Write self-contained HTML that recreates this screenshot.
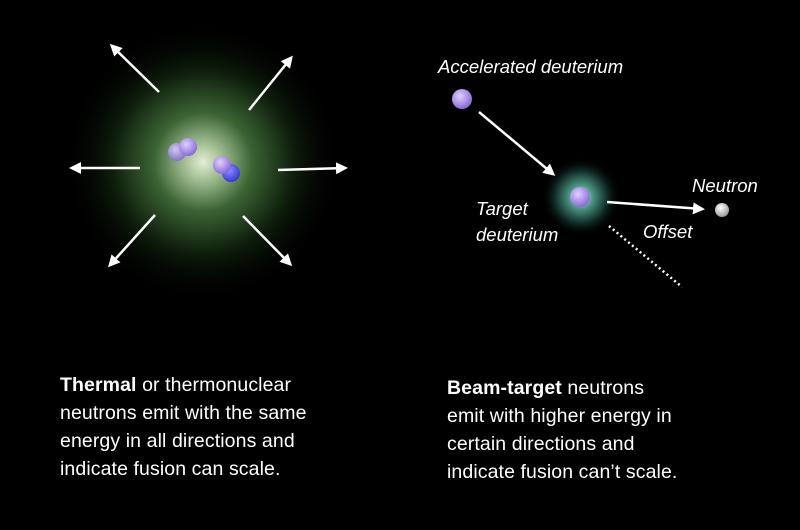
<!DOCTYPE html>
<html><head><meta charset="utf-8"><style>
body{margin:0;background:#000;width:800px;height:530px;overflow:hidden;font-family:"Liberation Sans",sans-serif;}
.t{position:absolute;color:#fff;font-size:19.5px;line-height:28px;letter-spacing:0.1px;}
</style></head><body>
<svg width="800" height="530" style="position:absolute;left:0;top:0">
<defs>
<radialGradient id="g1" cx="50%" cy="50%" r="50%">
<stop offset="0" stop-color="#e4ecd8"/>
<stop offset="0.12" stop-color="#a8c498"/>
<stop offset="0.35" stop-color="#3c6434"/>
<stop offset="0.65" stop-color="#0e1e0c"/>
<stop offset="1" stop-color="#000" stop-opacity="0"/>
</radialGradient>
<radialGradient id="g2" cx="50%" cy="50%" r="50%">
<stop offset="0" stop-color="#d8f0e8"/>
<stop offset="0.3" stop-color="#4a9480"/>
<stop offset="0.65" stop-color="#12302a"/>
<stop offset="1" stop-color="#000" stop-opacity="0"/>
</radialGradient>
<radialGradient id="p" cx="40%" cy="35%" r="65%">
<stop offset="0" stop-color="#e0d0ff"/><stop offset="1" stop-color="#8a6ad8"/>
</radialGradient>
<radialGradient id="b" cx="40%" cy="35%" r="65%">
<stop offset="0" stop-color="#8a90ff"/><stop offset="1" stop-color="#3a3ad0"/>
</radialGradient>
<radialGradient id="w" cx="40%" cy="35%" r="65%">
<stop offset="0" stop-color="#fff"/><stop offset="1" stop-color="#999"/>
</radialGradient>
<marker id="a" markerWidth="12" markerHeight="12" refX="9" refY="6" orient="auto" markerUnits="userSpaceOnUse">
<path d="M0,0 L12,6 L0,12 z" fill="#fff"/></marker>
</defs>
<circle cx="203" cy="162" r="140" fill="url(#g1)"/>
<circle cx="581" cy="197" r="40" fill="url(#g2)"/>
<g stroke="#fff" stroke-width="2.5" marker-end="url(#a)">
<line x1="159" y1="92" x2="112" y2="46"/>
<line x1="249" y1="110" x2="291" y2="58"/>
<line x1="140" y1="168" x2="72" y2="168"/>
<line x1="278" y1="170" x2="345" y2="168"/>
<line x1="155" y1="215" x2="110" y2="265"/>
<line x1="243" y1="216" x2="290" y2="264"/>
<line x1="479" y1="112" x2="553" y2="174"/>
<line x1="607" y1="202" x2="702" y2="209"/>
</g>
<line x1="609" y1="226" x2="682" y2="287" stroke="#fff" stroke-width="2.5" stroke-dasharray="2 3"/>
<circle cx="177" cy="152" r="9" fill="url(#p)" opacity="0.85"/>
<circle cx="188" cy="147" r="9" fill="url(#p)"/>
<circle cx="231" cy="173" r="9" fill="url(#b)"/>
<circle cx="222" cy="165" r="9" fill="url(#p)"/>
<circle cx="462" cy="99" r="10" fill="url(#p)"/>
<circle cx="580" cy="197" r="10" fill="url(#p)"/>
<circle cx="722" cy="210" r="7" fill="url(#w)"/>
<g fill="#fff" font-family="Liberation Sans, sans-serif" font-style="italic" font-size="18.5">
<text x="438" y="73">Accelerated deuterium</text>
<text x="692" y="192">Neutron</text>
<text x="476" y="215">Target</text>
<text x="476" y="241">deuterium</text>
<text x="643" y="238">Offset</text>
</g>
</svg>
<div class="t" style="left:60px;top:371px"><b>Thermal</b> or thermonuclear<br>neutrons emit with the same<br>energy in all directions and<br>indicate fusion can scale.</div>
<div class="t" style="left:447px;top:374px"><b>Beam-target</b> neutrons<br>emit with higher energy in<br>certain directions and<br>indicate fusion can’t scale.</div>
</body></html>
